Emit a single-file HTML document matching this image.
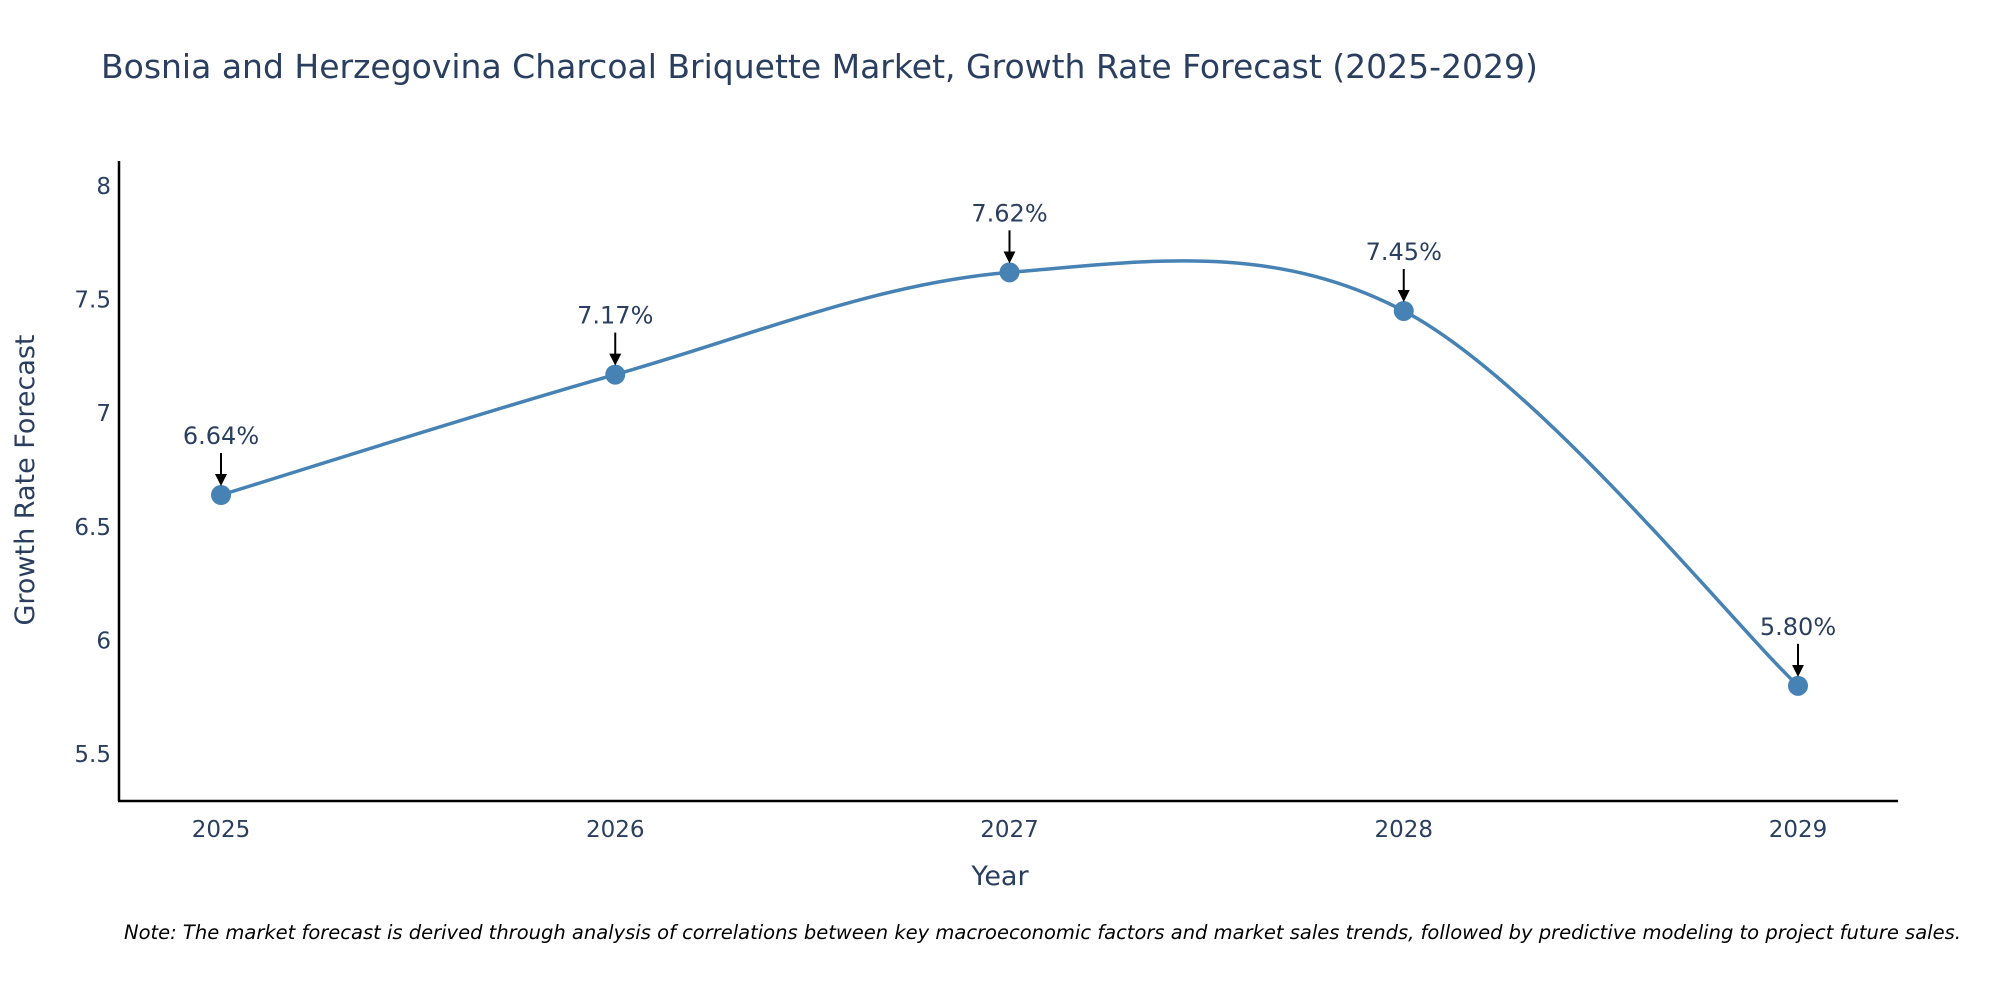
<!DOCTYPE html>
<html><head><meta charset="utf-8"><style>
body{margin:0;background:#fff;}
svg{display:block;font-family:"DejaVu Sans","Liberation Sans",sans-serif;}
</style></head><body>
<svg id="chart" width="2000" height="1000">
<text x="101" y="78" font-size="33" fill="#2a3f5f">Bosnia and Herzegovina Charcoal Briquette Market, Growth Rate Forecast (2025-2029)</text>
<g id="yticks"></g><g id="xticks"></g>
<line x1="119" y1="161" x2="119" y2="801" stroke="#000" stroke-width="2.5"/>
<line x1="118" y1="801" x2="1898" y2="801" stroke="#000" stroke-width="2.5"/>
<path id="series-line" fill="none" stroke="#4682b4" stroke-width="3.5"/>
<g id="marks"></g>
<text x="1000" y="885" font-size="27" fill="#2a3f5f" text-anchor="middle">Year</text>
<text transform="translate(34,480) rotate(-90)" font-size="27" fill="#2a3f5f" text-anchor="middle">Growth Rate Forecast</text>
<text x="124" y="939" font-size="19.5" font-style="italic" fill="#000">Note: The market forecast is derived through analysis of correlations between key macroeconomic factors and market sales trends, followed by predictive modeling to project future sales.</text>
<defs><marker id="ah" markerWidth="6" markerHeight="6" refX="5" refY="3" orient="auto" markerUnits="strokeWidth"><path d="M0,0 L6,3 L0,6 Z" fill="#000"/></marker></defs>
</svg>
<script>
const years=["2025","2026","2027","2028","2029"];
const values=[6.64,7.17,7.62,7.45,5.80];
const labels=["6.64%","7.17%","7.62%","7.45%","5.80%"];
const yTicks=[5.5,6,6.5,7,7.5,8];
const yTickLabels=["5.5","6","6.5","7","7.5","8"];
const NS="http://www.w3.org/2000/svg";
function xs(i){return 221+i*394.25;}
function ys(v){return 754-(v-5.5)*227.2;}
function mk(tag,attrs,parent){const e=document.createElementNS(NS,tag);for(const k in attrs)e.setAttribute(k,attrs[k]);parent.appendChild(e);return e;}
const yg=document.getElementById('yticks');
yTicks.forEach((v,i)=>{const t=mk('text',{x:111,y:ys(v)+8,'font-size':23,fill:'#2a3f5f','text-anchor':'end'},yg);t.textContent=yTickLabels[i];

});
const xg=document.getElementById('xticks');
years.forEach((y,i)=>{const t=mk('text',{x:xs(i),y:837,'font-size':23,fill:'#2a3f5f','text-anchor':'middle'},xg);t.textContent=y;

});
const P=values.map((v,i)=>[xs(i),ys(v)]);
let d='M'+P[0][0]+','+P[0][1];const s=0.17;
for(let i=0;i<P.length-1;i++){const p0=P[i-1]||P[i],p1=P[i],p2=P[i+1],p3=P[i+2]||P[i+1];
const c1=[p1[0]+(p2[0]-p0[0])*s,p1[1]+(p2[1]-p0[1])*s],c2=[p2[0]-(p3[0]-p1[0])*s,p2[1]-(p3[1]-p1[1])*s];
d+=` C${c1[0]},${c1[1]} ${c2[0]},${c2[1]} ${p2[0]},${p2[1]}`;}
document.getElementById('series-line').setAttribute('d',d);
const mg=document.getElementById('marks');
P.forEach((p,i)=>{const c=mk('circle',{cx:p[0],cy:p[1],r:10,fill:'#4682b4'},mg);


const a=mk('line',{x1:p[0],y1:p[1]-42,x2:p[0],y2:p[1]-11,stroke:'#000','stroke-width':2,'marker-end':'url(#ah)'},mg);


const t=mk('text',{x:p[0],y:p[1]-51,'font-size':24,fill:'#2a3f5f','text-anchor':'middle'},mg);t.textContent=labels[i];

});
</script>
</body></html>
